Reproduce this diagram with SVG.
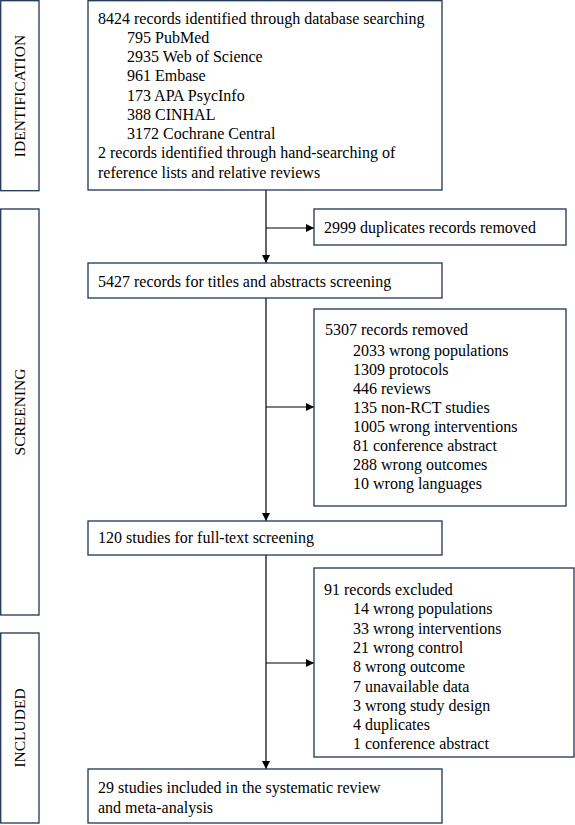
<svg xmlns="http://www.w3.org/2000/svg" width="575" height="825" viewBox="0 0 575 825">
<defs>
<style>
.box{fill:#fff;stroke:#1f3458;stroke-width:1.3}
text{font-family:"Liberation Serif","Times New Roman",serif;fill:#000}
.t{font-size:16px}
.lbl{font-size:15.5px;text-anchor:middle}
.ln{stroke:#000;stroke-width:1.2;fill:none}
</style>
<marker id="ah" viewBox="0 0 10 10" refX="10" refY="5" markerWidth="8" markerHeight="8" markerUnits="userSpaceOnUse" orient="auto">
<path d="M0,0 L10,5 L0,10 z" fill="#000"/>
</marker>
</defs>
<rect width="575" height="825" fill="#fff"/>

<g id="phase-identification">
<rect class="box" x="0.7" y="0.7" width="38.3" height="190"/>
<text class="lbl" transform="translate(25,96) rotate(-90)">IDENTIFICATION</text>
</g>
<g id="phase-screening">
<rect class="box" x="0.7" y="209" width="38.3" height="406"/>
<text class="lbl" transform="translate(25,412) rotate(-90)">SCREENING</text>
</g>
<g id="phase-included">
<rect class="box" x="0.7" y="633" width="38.3" height="190"/>
<text class="lbl" transform="translate(25,728) rotate(-90)">INCLUDED</text>
</g>

<g id="connectors">
<line class="ln" x1="266" y1="190" x2="266" y2="263" marker-end="url(#ah)"/>
<line class="ln" x1="266" y1="228" x2="314" y2="228" marker-end="url(#ah)"/>
<line class="ln" x1="266" y1="298" x2="266" y2="521" marker-end="url(#ah)"/>
<line class="ln" x1="266" y1="407" x2="314" y2="407" marker-end="url(#ah)"/>
<line class="ln" x1="266" y1="555" x2="266" y2="769" marker-end="url(#ah)"/>
<line class="ln" x1="266" y1="663" x2="314" y2="663" marker-end="url(#ah)"/>
</g>

<g id="identified">
<rect class="box" x="88" y="0.7" width="354" height="189.3"/>
<text class="t" x="98" y="23.5">8424 records identified through database searching</text>
<text class="t" x="127" y="42.7">795 PubMed</text>
<text class="t" x="127" y="62">2935 Web of Science</text>
<text class="t" x="127" y="81.2">961 Embase</text>
<text class="t" x="127" y="100.5">173 APA PsycInfo</text>
<text class="t" x="127" y="119.7">388 CINHAL</text>
<text class="t" x="127" y="139">3172 Cochrane Central</text>
<text class="t" x="98" y="158.2">2 records identified through hand-searching of</text>
<text class="t" x="98" y="177.5">reference lists and relative reviews</text>
</g>

<g id="duplicates">
<rect class="box" x="314" y="209" width="252" height="36"/>
<text class="t" x="324" y="233">2999 duplicates records removed</text>
</g>

<g id="title-abstract">
<rect class="box" x="88" y="263" width="354" height="35"/>
<text class="t" x="98" y="287">5427 records for titles and abstracts screening</text>
</g>

<g id="removed">
<rect class="box" x="314" y="309" width="252" height="197"/>
<text class="t" x="325" y="335">5307 records removed</text>
<text class="t" x="353" y="355.5">2033 wrong populations</text>
<text class="t" x="353" y="374.5">1309 protocols</text>
<text class="t" x="353" y="393.5">446 reviews</text>
<text class="t" x="353" y="412.5">135 non-RCT studies</text>
<text class="t" x="353" y="431.8">1005 wrong interventions</text>
<text class="t" x="353" y="451">81 conference abstract</text>
<text class="t" x="353" y="470">288 wrong outcomes</text>
<text class="t" x="353" y="489.3">10 wrong languages</text>
</g>

<g id="full-text">
<rect class="box" x="88" y="521" width="354" height="34"/>
<text class="t" x="98" y="543">120 studies for full-text screening</text>
</g>

<g id="excluded">
<rect class="box" x="314" y="568" width="260" height="189"/>
<text class="t" x="324" y="595">91 records excluded</text>
<text class="t" x="353" y="614.3">14 wrong populations</text>
<text class="t" x="353" y="634">33 wrong interventions</text>
<text class="t" x="353" y="653.3">21 wrong control</text>
<text class="t" x="353" y="672.3">8 wrong outcome</text>
<text class="t" x="353" y="691.7">7 unavailable data</text>
<text class="t" x="353" y="710.7">3 wrong study design</text>
<text class="t" x="353" y="730">4 duplicates</text>
<text class="t" x="353" y="749">1 conference abstract</text>
</g>

<g id="included">
<rect class="box" x="88" y="769" width="354" height="54"/>
<text class="t" x="98" y="793">29 studies included in the systematic review</text>
<text class="t" x="98" y="813">and meta-analysis</text>
</g>
</svg>
